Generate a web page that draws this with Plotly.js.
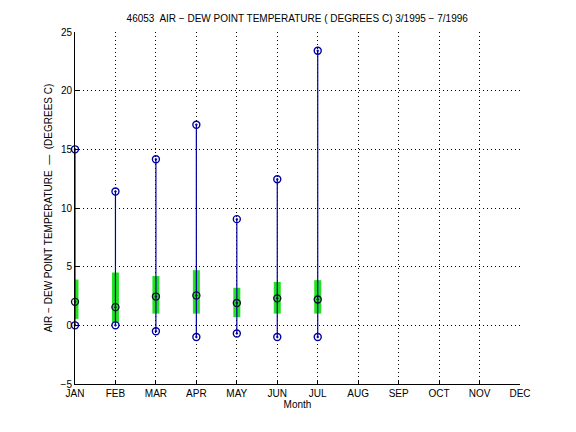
<!DOCTYPE html>
<html><head><meta charset="utf-8">
<script src="https://cdn.plot.ly/plotly-3.0.1.min.js"></script>
<style>body{margin:0;background:#fff}#chart{width:576px;height:432px}</style>
</head><body><div id="chart"></div>
<script>
var months = ['JAN','FEB','MAR','APR','MAY','JUN','JUL','AUG','SEP','OCT','NOV','DEC'];
var dataMonths = ['JAN','FEB','MAR','APR','MAY','JUN','JUL'];
var maxVals = [15.0, 11.4, 14.15, 17.1, 9.05, 12.45, 23.4];
var minVals = [0.0, 0.0, -0.5, -1.0, -0.7, -1.0, -1.0];
var medianVals = [2.0, 1.55, 2.45, 2.55, 1.9, 2.3, 2.2];
var q1Vals = [0.55, 0.25, 1.0, 1.0, 0.7, 1.0, 1.0];
var q3Vals = [3.9, 4.5, 4.2, 4.7, 3.2, 3.7, 3.85];

var wx = [], wy = [], bx = [], by = [];
for (var i = 0; i < dataMonths.length; i++) {
  wx.push(dataMonths[i], dataMonths[i], null);
  wy.push(minVals[i], maxVals[i], null);
  bx.push(dataMonths[i], dataMonths[i], null);
  by.push(q1Vals[i], q3Vals[i], null);
}

var traces = [
  {type:'scatter', mode:'lines', x:bx, y:by, cliponaxis:false,
   line:{color:'#22e022', width:7}, hoverinfo:'skip', showlegend:false},
  {type:'scatter', mode:'lines', x:wx, y:wy, cliponaxis:false, line:{color:'#0000a0', width:1.2},
   showlegend:false, hoverinfo:'skip'},
  {type:'scatter', mode:'markers', x:dataMonths, y:maxVals, cliponaxis:false,
   marker:{symbol:'circle-open-dot', size:7, color:'#0000a0', line:{width:1.4, color:'#0000a0'}}, showlegend:false},
  {type:'scatter', mode:'markers', x:dataMonths, y:minVals, cliponaxis:false,
   marker:{symbol:'circle-open-dot', size:7, color:'#0000a0', line:{width:1.4, color:'#0000a0'}}, showlegend:false},
  {type:'scatter', mode:'markers', x:dataMonths, y:medianVals, cliponaxis:false,
   marker:{symbol:'circle-open-dot', size:7, color:'#101030', line:{width:1.4, color:'#101030'}}, showlegend:false}
];

var fontFam = 'Liberation Sans, Arial, Helvetica, sans-serif';
var layout = {
  width:576, height:432,
  margin:{l:75, r:56, t:32, b:48, pad:0},
  paper_bgcolor:'#fff', plot_bgcolor:'#fff',
  font:{family:fontFam, size:10, color:'#000'},
  title:{text:'46053  AIR \u2212 DEW POINT TEMPERATURE ( DEGREES C) 3/1995 \u2212 7/1996',
         font:{family:fontFam, size:10, color:'#000'}, x:0.516, xanchor:'center', y:0.957, yanchor:'middle'},
  xaxis:{type:'category', categoryorder:'array', categoryarray:months,
         range:[0, 11], tickvals:months, ticktext:months,
         showgrid:true, gridcolor:'#000', griddash:'1px,3px', gridwidth:1,
         showline:true, linecolor:'#000', linewidth:1, mirror:false,
         ticks:'inside', ticklen:4, tickcolor:'#000', zeroline:false,
         tickfont:{family:fontFam, size:10},
         title:{text:'Month', font:{family:fontFam, size:10}, standoff:2}},
  yaxis:{range:[-5, 25], tickvals:[-5,0,5,10,15,20,25], ticktext:['\u22125','0','5','10','15','20','25'],
         showgrid:true, gridcolor:'#000', griddash:'1px,3px', gridwidth:1,
         showline:true, linecolor:'#000', linewidth:1, mirror:false,
         ticks:'inside', ticklen:4, tickcolor:'#000', zeroline:false,
         tickfont:{family:fontFam, size:10},
         title:{text:'AIR \u2212 DEW POINT TEMPERATURE  \u2014  (DEGREES C)', font:{family:fontFam, size:10}, standoff:6}}
};
Plotly.newPlot('chart', traces, layout, {staticPlot:true, displayModeBar:false});
</script>
</body></html>
